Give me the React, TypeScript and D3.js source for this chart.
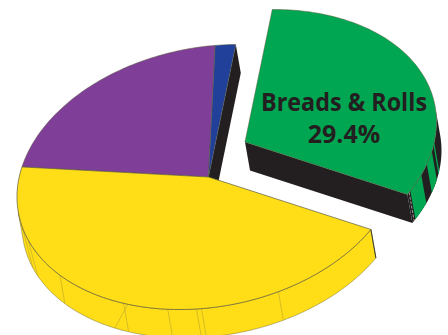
import React from "react";
import * as d3 from "d3";

// Slice shares, drawn clockwise from the lower right
const sliceNames = ["Other", "Protein", "Sides", "Breads & Rolls"];
const sliceValues = [41.6, 20.4, 1.6, 29.4];
const sliceColors = ["#ffde17", "#7f3f98", "#21409a", "#00a651"];
const sliceLift = [0, 0, 0, 1];
const labelLines = ["Breads & Rolls", "29.4%"];

// Seams on the outer wall of the large slice: [angle on the top rim, angle on the bottom rim]
const seamAngles: [number, number][] = [
  [167, 160.6], [160.6, 156.5], [140.9, 140.9], [116.3, 116.3], [114.9, 121],
  [102.3, 102.3], [93.6, 93.6], [92.1, 92.1], [68.6, 68.6],
];
// Green bands on the dark outer wall of the lifted slice: [from, to] in degrees
const bandAngles: [number, number][] = [[23, 30.3], [12.7, 18.3], [8.8, 10.2]];

const width = 448;
const height = 335;
const apex: [number, number] = [208.5, 177];
const lift: [number, number] = [36.5, -35];
const depth: [number, number] = [5, 28.5];
const ink = "#231f20";
const edge = "#5c5a3c";
const startDeg = 32;
const wallLimit = 6.85;

const rad = d3.scaleLinear().domain([0, 180]).range([0, Math.PI]);

// Tilted disc: maps an angle on the pie to a point around its centre
const onDisc = (t: number): [number, number] => [
  191.5 * Math.cos(t),
  -20 * Math.cos(t) + 131 * Math.sin(t),
];
const place = (t: number, o: [number, number], d = false): [number, number] => {
  const p = onDisc(t);
  return [p[0] + o[0] + (d ? depth[0] : 0), p[1] + o[1] + (d ? depth[1] : 0)];
};
const line = d3.line<[number, number]>();
const arcPoints = (a: number, b: number, o: [number, number], d = false) => {
  const n = Math.max(2, Math.ceil(Math.abs(b - a) / 0.02));
  return d3.range(n + 1).map((i) => place(a + ((b - a) * i) / n, o, d));
};
const wall = (a: number, b: number, o: [number, number]) =>
  line([...arcPoints(a, b, o), ...arcPoints(b, a, o, true)]) + "Z";

const pieLayout = d3
  .pie<number>()
  .sort(null)
  .startAngle(rad(startDeg))
  .endAngle(rad(startDeg) + 2 * Math.PI);
const arcs = pieLayout(sliceValues).map((a, i) => ({
  ...a,
  origin: (sliceLift[i]
    ? [apex[0] + lift[0], apex[1] + lift[1]]
    : apex) as [number, number],
  color: sliceColors[i],
  name: sliceNames[i],
}));
const [yellow, purple, blue, green] = arcs;

const topPath = (a: (typeof arcs)[number]) =>
  line([a.origin, ...arcPoints(a.startAngle, a.endAngle, a.origin)]) + "Z";

const wallEndYellow = Math.PI - rad(wallLimit);

// Flat side of a slice along one of its radial edges
const radialSide = (t: number, o: [number, number]) =>
  line([o, place(t, o), place(t, o, true), [o[0] + depth[0], o[1] + depth[1]]]) + "Z";

export default function App() {
  const seamTop = place(rad(31), green.origin);
  const seamBottom = place(rad(31), green.origin, true);

  return (
    <svg
      width={width}
      height={height}
      viewBox={`0 0 ${width} ${height}`}
      style={{ position: "absolute", left: 0, top: 0, background: "#fff" }}
    >
      {/* rear slices */}
      <path d={radialSide(blue.endAngle, blue.origin)} fill={ink} />
      <path d={topPath(purple)} fill={purple.color} stroke={edge} strokeWidth={0.5} />
      <path d={topPath(blue)} fill={blue.color} stroke={edge} strokeWidth={0.5} />

      {/* large front slice: wall, seams, top */}
      <path
        d={wall(yellow.startAngle, wallEndYellow, yellow.origin)}
        fill={yellow.color}
        stroke="#77702a"
        strokeWidth={0.5}
      />
      {seamAngles.map(([top, bottom], i) => {
        const p = place(rad(top), yellow.origin);
        const q = place(rad(bottom), yellow.origin, true);
        return (
          <line
            key={i}
            x1={p[0]}
            y1={p[1]}
            x2={q[0]}
            y2={q[1]}
            stroke="#c4ad28"
            strokeWidth={0.7}
          />
        );
      })}
      <path
        d={line([place(yellow.startAngle, yellow.origin), place(yellow.startAngle, yellow.origin, true)])!}
        stroke="#3a3a30"
        strokeWidth={1}
        fill="none"
      />
      <path d={topPath(yellow)} fill={yellow.color} stroke={edge} strokeWidth={0.7} />

      {/* lifted slice: dark walls, striped rim, top and label */}
      <path d={radialSide(green.endAngle, green.origin)} fill={ink} />
      <path d={wall(rad(startDeg), rad(-wallLimit), green.origin)} fill={ink} />
      {bandAngles.map(([from, to], i) => (
        <path key={i} d={wall(rad(from), rad(to), green.origin)} fill={green.color} />
      ))}
      <line
        x1={seamTop[0]}
        y1={seamTop[1]}
        x2={seamBottom[0]}
        y2={seamBottom[1]}
        stroke="#c9c9c9"
        strokeWidth={0.7}
        strokeDasharray="3 1.5"
      />
      <path d={topPath(green)} fill={green.color} stroke={edge} strokeWidth={0.5} />
      <g
        fontFamily="'Open Sans', sans-serif"
        fontWeight={700}
        fontSize={25}
        fill={ink}
        textAnchor="middle"
      >
        <text x={344} y={111} textLength={166} lengthAdjust="spacingAndGlyphs">
          {labelLines[0]}
        </text>
        <text x={344} y={143}>{labelLines[1]}</text>
      </g>
    </svg>
  );
}
